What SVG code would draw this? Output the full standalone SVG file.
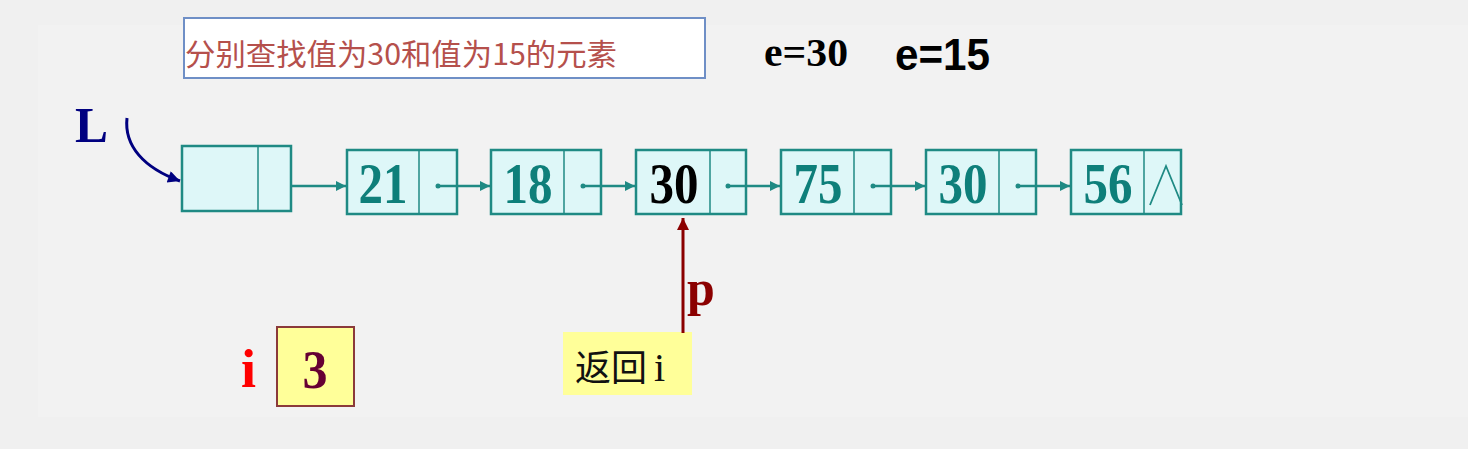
<svg xmlns="http://www.w3.org/2000/svg" width="1468" height="449" viewBox="0 0 1468 449">
<defs>
<style>
.bg{fill:#f0f0f0}
.panel{fill:#f2f2f2}
.node rect.box{fill:#def7f8;stroke:#1f8a84;stroke-width:2.5}
.node line{stroke:#1f8a84;stroke-width:1.5}
.val{font-family:"Liberation Serif",serif;font-weight:bold;font-size:57px;fill:#0e7f7a;text-anchor:middle}
.link{stroke:#1f8a84;stroke-width:2.5;fill:none}
.dot{fill:#1f8a84}
</style>
<marker id="at" viewBox="0 0 10 10" refX="10" refY="5" markerWidth="5" markerHeight="4" markerUnits="strokeWidth" orient="auto">
<path d="M0,0 L10,5 L0,10 z" fill="#1f8a84"/>
</marker>
<marker id="an" viewBox="0 0 10 10" refX="10" refY="5" markerWidth="5" markerHeight="4" markerUnits="strokeWidth" orient="auto">
<path d="M0,0 L10,5 L0,10 z" fill="#000080"/>
</marker>
<marker id="ar" viewBox="0 0 10 10" refX="10" refY="5" markerWidth="5" markerHeight="4" markerUnits="strokeWidth" orient="auto">
<path d="M0,0 L10,5 L0,10 z" fill="#8b0000"/>
</marker>
</defs>
<rect class="bg" x="0" y="0" width="1468" height="449"/>
<rect class="panel" x="38" y="25" width="1430" height="392"/>

<g id="title">
<rect x="184" y="18" width="521" height="60" fill="#ffffff" stroke="#6f8fc6" stroke-width="2"/>
<text x="185" y="65" font-family="'Noto Sans CJK SC',sans-serif" font-size="30" fill="#b5504c" textLength="432" lengthAdjust="spacingAndGlyphs">分别查找值为30和值为15的元素</text>
</g>
<g id="e30"><text x="764" y="66" font-family="'Liberation Serif',serif" font-weight="bold" font-size="41" fill="#000" textLength="84" lengthAdjust="spacingAndGlyphs">e=30</text></g>
<g id="e15"><text x="895" y="70" font-family="'Liberation Sans',sans-serif" font-weight="bold" font-size="44" fill="#000" textLength="95" lengthAdjust="spacingAndGlyphs">e=15</text></g>

<g id="L"><text x="75" y="142" font-family="'Liberation Serif',serif" font-weight="bold" font-size="50" fill="#000080" textLength="33" lengthAdjust="spacingAndGlyphs">L</text></g>

<g id="head" class="node">
<rect class="box" x="182" y="146" width="109" height="65"/>
<line x1="258" y1="146" x2="258" y2="211"/>
</g>
<g id="n21" class="node">
<rect class="box" x="347" y="150" width="110" height="64"/>
<line x1="419" y1="150" x2="419" y2="214"/>
<text class="val" x="383" y="203" textLength="49" lengthAdjust="spacingAndGlyphs">21</text>
</g>
<g id="n18" class="node">
<rect class="box" x="491" y="150" width="110" height="64"/>
<line x1="564" y1="150" x2="564" y2="214"/>
<text class="val" x="528" y="203" textLength="49" lengthAdjust="spacingAndGlyphs">18</text>
</g>
<g id="n30a" class="node">
<rect class="box" x="636" y="150" width="110" height="64"/>
<line x1="710" y1="150" x2="710" y2="214"/>
<text class="val" x="674" y="203" style="fill:#000" textLength="49" lengthAdjust="spacingAndGlyphs">30</text>
</g>
<g id="n75" class="node">
<rect class="box" x="781" y="150" width="110" height="64"/>
<line x1="854" y1="150" x2="854" y2="214"/>
<text class="val" x="818" y="203" textLength="49" lengthAdjust="spacingAndGlyphs">75</text>
</g>
<g id="n30b" class="node">
<rect class="box" x="926" y="150" width="110" height="64"/>
<line x1="999" y1="150" x2="999" y2="214"/>
<text class="val" x="963" y="203" textLength="49" lengthAdjust="spacingAndGlyphs">30</text>
</g>
<g id="n56" class="node">
<rect class="box" x="1071" y="150" width="110" height="64"/>
<line x1="1144" y1="150" x2="1144" y2="214"/>
<text class="val" x="1108" y="203" textLength="49" lengthAdjust="spacingAndGlyphs">56</text>
<path d="M1150,205 L1166,166 L1182,205" fill="none" stroke="#1f8a84" stroke-width="1.8"/>
</g>

<g id="i-var">
<text x="241" y="387" font-family="'Liberation Serif',serif" font-weight="bold" font-size="54" fill="#ff0000">i</text>
<rect x="277" y="327" width="77" height="79" fill="#ffff99" stroke="#8b3a3a" stroke-width="2"/>
<text x="315" y="388" text-anchor="middle" font-family="'Liberation Serif',serif" font-weight="bold" font-size="54" fill="#660033" textLength="25" lengthAdjust="spacingAndGlyphs">3</text>
</g>

<g id="ret">
<rect x="563" y="332" width="129" height="63" fill="#ffff99"/>
<text x="575" y="381" font-family="'Noto Sans CJK SC',sans-serif" font-size="36" fill="#111">返回</text>
<text x="654" y="381" font-family="'Liberation Serif',serif" font-size="40" fill="#111">i</text>
</g>

<g id="p-label"><text x="687" y="305" font-family="'Liberation Serif',serif" font-weight="bold" font-size="50" fill="#8b0000">p</text></g>

<g id="connectors">
<path d="M127,118 C124,146 144,168 180,181" stroke="#000080" stroke-width="3" fill="none" marker-end="url(#an)"/>
<line class="link" x1="291" y1="186" x2="346" y2="186" marker-end="url(#at)"/>
<circle class="dot" cx="438" cy="186" r="2.5"/><line class="link" x1="438" y1="186" x2="490" y2="186" marker-end="url(#at)"/>
<circle class="dot" cx="583" cy="186" r="2.5"/><line class="link" x1="583" y1="186" x2="635" y2="186" marker-end="url(#at)"/>
<circle class="dot" cx="728" cy="186" r="2.5"/><line class="link" x1="728" y1="186" x2="780" y2="186" marker-end="url(#at)"/>
<circle class="dot" cx="873" cy="186" r="2.5"/><line class="link" x1="873" y1="186" x2="925" y2="186" marker-end="url(#at)"/>
<circle class="dot" cx="1018" cy="186" r="2.5"/><line class="link" x1="1018" y1="186" x2="1070" y2="186" marker-end="url(#at)"/>
<line x1="683" y1="333" x2="683" y2="218" stroke="#8b0000" stroke-width="3" marker-end="url(#ar)"/>
</g>
</svg>
